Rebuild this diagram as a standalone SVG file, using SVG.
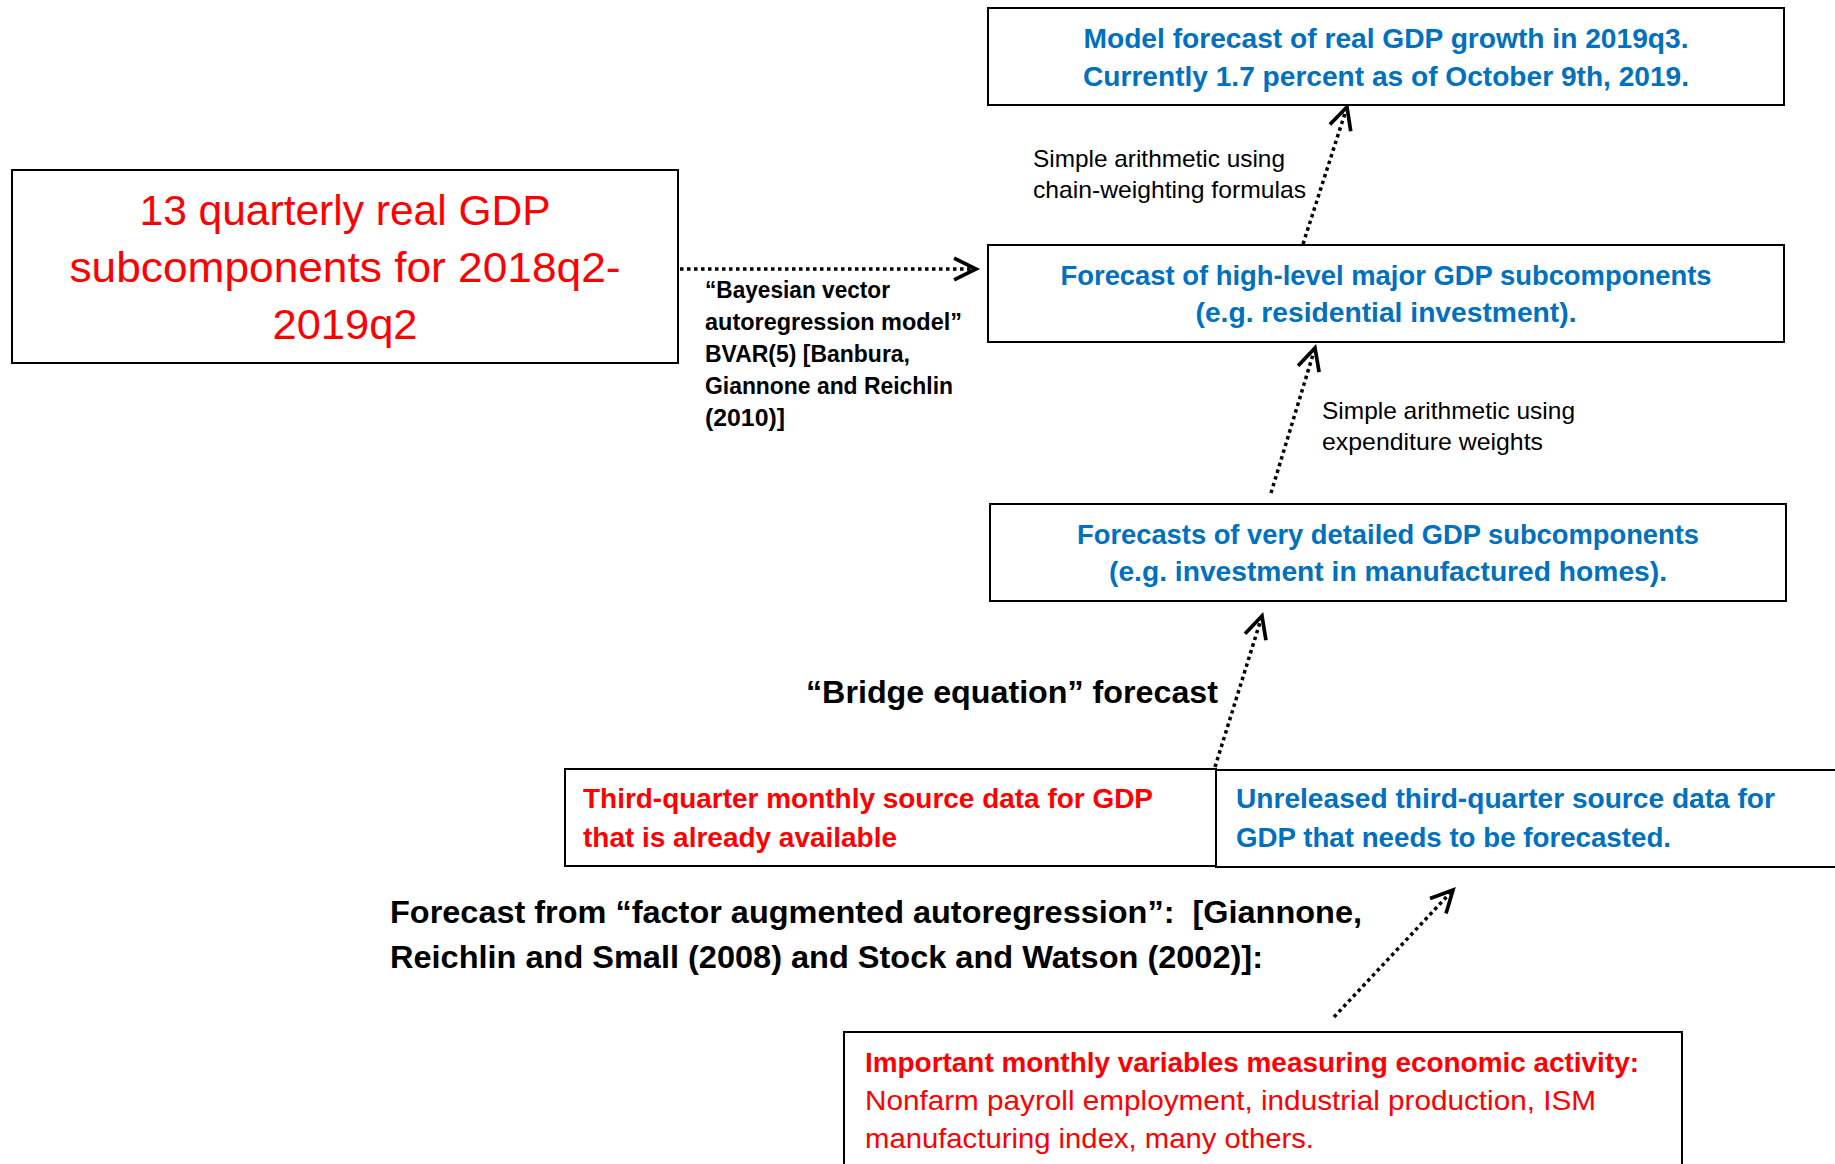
<svg xmlns="http://www.w3.org/2000/svg" width="1835" height="1164" viewBox="0 0 1835 1164">
<defs>
<style>
.box{fill:#fff;stroke:#000;stroke-width:2}
.t{font-family:"Liberation Sans",Arial,sans-serif}
.b{font-weight:bold}
.blue{fill:#0070C0}
.red{fill:#FF0000}
.blk{fill:#000}
.mid{text-anchor:middle}
.conn{fill:none;stroke:#000;stroke-width:3.5;stroke-dasharray:3.5 3.5}
</style>
<marker id="head" markerUnits="userSpaceOnUse" markerWidth="30" markerHeight="30" viewBox="-22 -13 26 26" refX="0" refY="0" orient="auto">
<path d="M -19 -9.5 L 0 0 L -19 9.5" fill="none" stroke="#000" stroke-width="3.2" stroke-linejoin="miter"/>
</marker>
</defs>
<rect width="1835" height="1164" fill="#fff"/>

<g id="connectors">
<path class="conn" d="M 680 269 L 976 269" marker-end="url(#head)"/>
<path class="conn" d="M 1303 244 L 1347 107" marker-end="url(#head)"/>
<path class="conn" d="M 1271 493 L 1315 348" marker-end="url(#head)"/>
<path class="conn" d="M 1215 767 L 1262 616" marker-end="url(#head)"/>
<path class="conn" d="M 1334 1017 L 1453 890" marker-end="url(#head)"/>
</g>

<g id="node-model-forecast">
<rect class="box" x="988" y="8" width="796" height="97"/>
<text class="t b blue mid" font-size="28" x="1386" y="48" textLength="605" lengthAdjust="spacingAndGlyphs">Model forecast of real GDP growth in 2019q3.</text>
<text class="t b blue mid" font-size="28" x="1386" y="86" textLength="606" lengthAdjust="spacingAndGlyphs">Currently 1.7 percent as of October 9th, 2019.</text>
</g>

<g id="node-quarterly">
<rect class="box" x="12" y="170" width="666" height="193"/>
<text class="t red mid" font-size="42" x="345" y="225" textLength="411" lengthAdjust="spacingAndGlyphs">13 quarterly real GDP</text>
<text class="t red mid" font-size="42" x="345" y="282" textLength="551" lengthAdjust="spacingAndGlyphs">subcomponents for 2018q2-</text>
<text class="t red mid" font-size="42" x="345" y="339" textLength="145" lengthAdjust="spacingAndGlyphs">2019q2</text>
</g>

<g id="label-bvar">
<text class="t b blk" font-size="23" x="705" y="298" textLength="185" lengthAdjust="spacingAndGlyphs">“Bayesian vector</text>
<text class="t b blk" font-size="23" x="705" y="330" textLength="257" lengthAdjust="spacingAndGlyphs">autoregression model”</text>
<text class="t b blk" font-size="23" x="705" y="362" textLength="205" lengthAdjust="spacingAndGlyphs">BVAR(5) [Banbura,</text>
<text class="t b blk" font-size="23" x="705" y="394" textLength="248" lengthAdjust="spacingAndGlyphs">Giannone and Reichlin</text>
<text class="t b blk" font-size="23" x="705" y="426" textLength="80" lengthAdjust="spacingAndGlyphs">(2010)]</text>
</g>

<g id="label-chain">
<text class="t blk" font-size="24" x="1033" y="167" textLength="252" lengthAdjust="spacingAndGlyphs">Simple arithmetic using</text>
<text class="t blk" font-size="24" x="1033" y="198" textLength="273" lengthAdjust="spacingAndGlyphs">chain-weighting formulas</text>
</g>

<g id="node-high-level">
<rect class="box" x="988" y="245" width="796" height="97"/>
<text class="t b blue mid" font-size="28" x="1386" y="285" textLength="651" lengthAdjust="spacingAndGlyphs">Forecast of high-level major GDP subcomponents</text>
<text class="t b blue mid" font-size="28" x="1386" y="322" textLength="381" lengthAdjust="spacingAndGlyphs">(e.g. residential investment).</text>
</g>

<g id="label-expenditure">
<text class="t blk" font-size="24" x="1322" y="419" textLength="253" lengthAdjust="spacingAndGlyphs">Simple arithmetic using</text>
<text class="t blk" font-size="24" x="1322" y="450" textLength="221" lengthAdjust="spacingAndGlyphs">expenditure weights</text>
</g>

<g id="node-detailed">
<rect class="box" x="990" y="504" width="796" height="97"/>
<text class="t b blue mid" font-size="28" x="1388" y="544" textLength="622" lengthAdjust="spacingAndGlyphs">Forecasts of very detailed GDP subcomponents</text>
<text class="t b blue mid" font-size="28" x="1388" y="581" textLength="558" lengthAdjust="spacingAndGlyphs">(e.g. investment in manufactured homes).</text>
</g>

<g id="label-bridge">
<text class="t b blk" font-size="32" x="806" y="703" textLength="412" lengthAdjust="spacingAndGlyphs">“Bridge equation” forecast</text>
</g>

<g id="node-available">
<rect class="box" x="565" y="769" width="651" height="97"/>
<text class="t b red" font-size="28" x="583" y="808" textLength="570" lengthAdjust="spacingAndGlyphs">Third-quarter monthly source data for GDP</text>
<text class="t b red" font-size="28" x="583" y="847" textLength="314" lengthAdjust="spacingAndGlyphs">that is already available</text>
</g>

<g id="node-unreleased">
<rect class="box" x="1216" y="770" width="630" height="97"/>
<text class="t b blue" font-size="28" x="1236" y="808" textLength="539" lengthAdjust="spacingAndGlyphs">Unreleased third-quarter source data for</text>
<text class="t b blue" font-size="28" x="1236" y="847" textLength="435" lengthAdjust="spacingAndGlyphs">GDP that needs to be forecasted.</text>
</g>

<g id="label-factor">
<text class="t b blk" font-size="31" x="390" y="923" textLength="972" lengthAdjust="spacingAndGlyphs">Forecast from “factor augmented autoregression”: &#160;[Giannone,</text>
<text class="t b blk" font-size="31" x="390" y="968" textLength="873" lengthAdjust="spacingAndGlyphs">Reichlin and Small (2008) and Stock and Watson (2002)]:</text>
</g>

<g id="node-monthly">
<rect class="box" x="844" y="1032" width="838" height="140"/>
<text class="t b red" font-size="28" x="865" y="1072" textLength="774" lengthAdjust="spacingAndGlyphs">Important monthly variables measuring economic activity:</text>
<text class="t red" font-size="28" x="865" y="1110" textLength="731" lengthAdjust="spacingAndGlyphs">Nonfarm payroll employment, industrial production, ISM</text>
<text class="t red" font-size="28" x="865" y="1148" textLength="449" lengthAdjust="spacingAndGlyphs">manufacturing index, many others.</text>
</g>
</svg>
